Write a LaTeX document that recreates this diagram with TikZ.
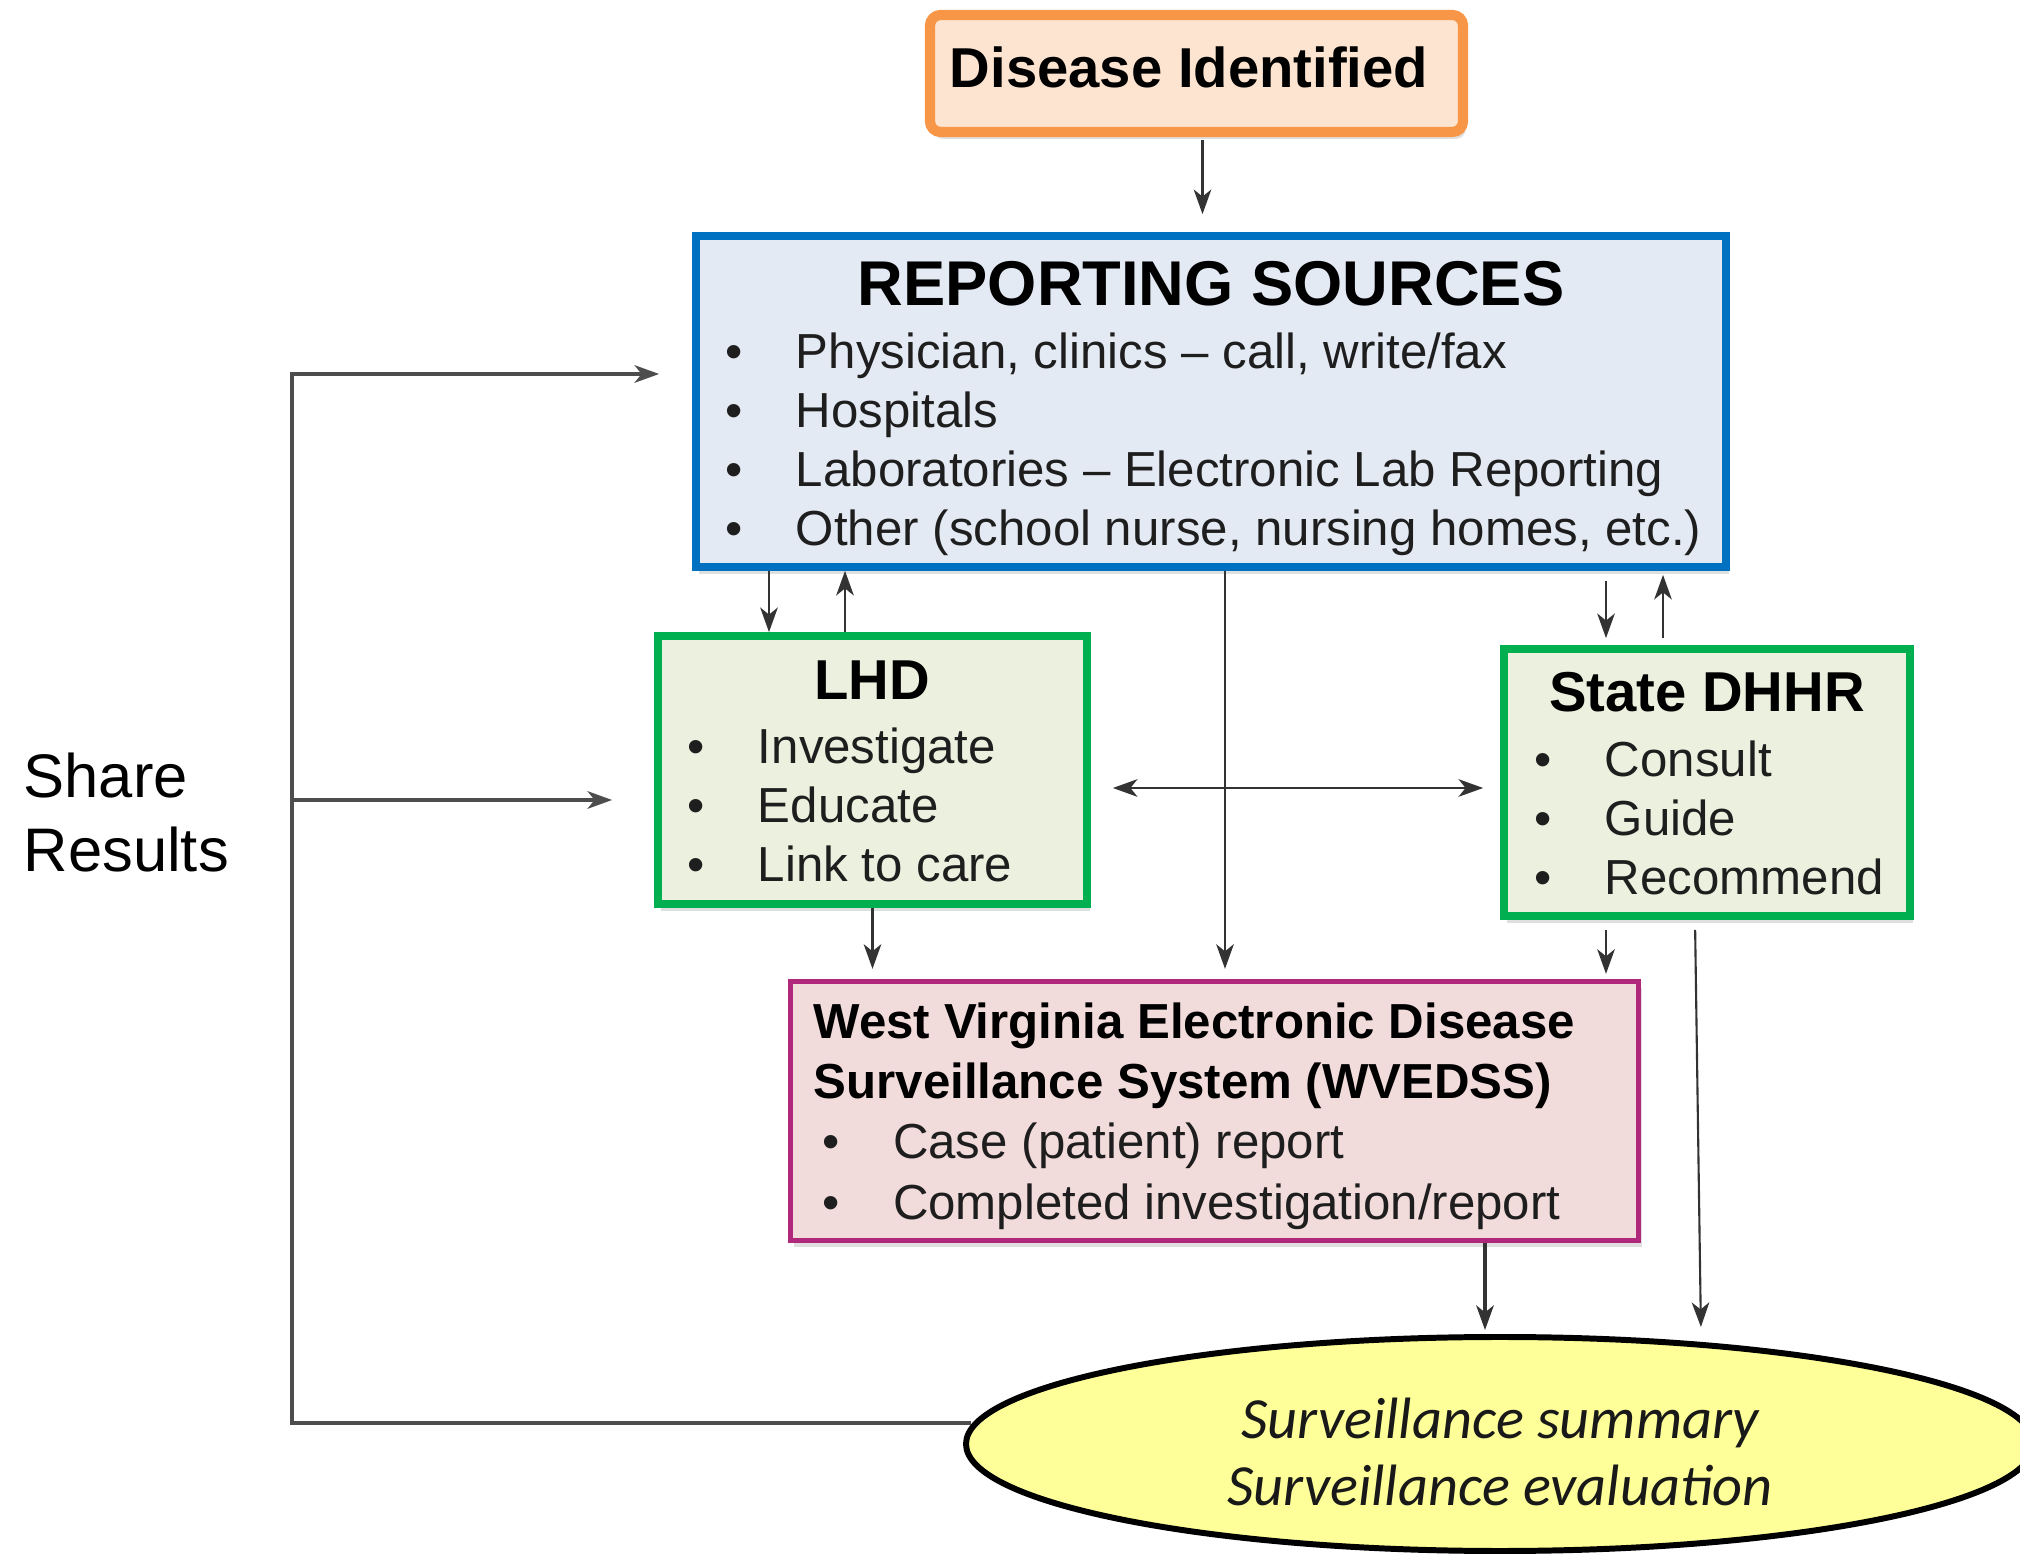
\documentclass[tikz,border=0pt]{standalone}
\usepackage{fontspec}
\setmainfont{Liberation Sans}
\newfontfamily\calfont{Carlito}
\usepackage{tikz}
\usetikzlibrary{arrows.meta,positioning,shapes.geometric,shadows}

\definecolor{dorange}{HTML}{F79646}
\definecolor{dpeach}{HTML}{FCE4D0}
\definecolor{dblue}{HTML}{0070C0}
\definecolor{lblue}{HTML}{E4EAF4}
\definecolor{dgreen}{HTML}{00B050}
\definecolor{lgreen}{HTML}{EBF1DE}
\definecolor{dmagenta}{HTML}{B0287C}
\definecolor{lpink}{HTML}{F2DCDB}
\definecolor{lyellow}{HTML}{FFFF99}
\definecolor{linegray}{HTML}{333333}
\definecolor{sharegray}{HTML}{4D4D4D}
\definecolor{txtgray}{HTML}{1E1E1E}

\newcommand{\bitem}[1]{\strut\makebox[20pt][l]{\textbullet}#1}

\begin{document}
\begin{tikzpicture}[
    >={Stealth[length=7pt,width=5pt,inset=2pt]},
    box/.style={draw, rectangle, inner sep=0pt,
                drop shadow={shadow xshift=0.03cm, shadow yshift=-0.07cm, opacity=0.25}},
    ttl/.style={anchor=base, inner sep=0pt, font=\fontsize{16}{19}\selectfont\bfseries},
    lst/.style={anchor=north west, inner sep=0pt, align=left, text=txtgray,
                font=\fontsize{14}{16.8}\selectfont},
    link/.style={->, line width=0.6pt, draw=linegray},
    share/.style={line width=0.9pt, draw=sharegray}
  ]
  \useasboundingbox (0,0) rectangle (20.2,-15.57);

  % Cajas principales
  \node[box, draw=dorange, fill=dpeach, line width=2.9pt, rounded corners=3pt,
        minimum width=5.33cm, minimum height=1.17cm] (dis) at (11.965,-0.735) {};
  \node[anchor=base, inner sep=0pt, font=\fontsize{16}{19}\selectfont\bfseries]
        (distitle) at (11.89,-0.88) {Disease Identified};

  \node[box, draw=dblue, fill=lblue, line width=2.2pt,
        minimum width=10.30cm, minimum height=3.31cm] (rep) at (12.11,-4.015) {};
  \node[ttl, font=\fontsize{18}{21}\selectfont\bfseries] (reptitle) at (12.11,-3.06) {REPORTING SOURCES};
  \node[lst] (replist) at (7.25,-3.26) {
    \bitem{Physician, clinics \textendash{} call, write/fax}\\
    \bitem{Hospitals}\\
    \bitem{Laboratories \textendash{} Electronic Lab Reporting}\\
    \bitem{Other (school nurse, nursing homes, etc.)}
  };

  \node[box, draw=dgreen, fill=lgreen, line width=2.2pt,
        minimum width=4.29cm, minimum height=2.68cm] (lhd) at (8.725,-7.70) {};
  \node[ttl] (lhdtitle) at (8.72,-7.00) {LHD};
  \node[lst] (lhdlist) at (6.87,-7.21) {
    \bitem{Investigate}\\
    \bitem{Educate}\\
    \bitem{Link to care}
  };

  \node[box, draw=dgreen, fill=lgreen, line width=2.2pt,
        minimum width=4.06cm, minimum height=2.67cm] (dhhr) at (17.07,-7.825) {};
  \node[ttl] (dhhrtitle) at (17.07,-7.12) {State DHHR};
  \node[lst] (dhhrlist) at (15.34,-7.34) {
    \bitem{Consult}\\
    \bitem{Guide}\\
    \bitem{Recommend}
  };

  \node[box, draw=dmagenta, fill=lpink, line width=1.5pt,
        minimum width=8.48cm, minimum height=2.59cm] (wv) at (12.145,-11.11) {};
  \node[lst, font=\fontsize{14}{17.1}\selectfont] (wvlist) at (8.13,-9.96) {
    \strut{\color{black}\bfseries West Virginia Electronic Disease}\\
    {\color{black}\bfseries Surveillance System (WVEDSS)}\\
    \hspace*{2.6pt}\bitem{Case (patient) report}\\
    \hspace*{2.6pt}\bitem{Completed investigation/report}
  };

  \node[ellipse, draw=black, fill=lyellow, line width=1.7pt, inner sep=0pt,
        minimum width=10.68cm, minimum height=2.14cm] (summ) at (15.0,-14.44) {};
  \node[align=center, inner sep=0pt, text=black!90,
        font=\calfont\fontsize{16.6}{19.2}\selectfont\itshape] (summtext) at (15.0,-14.52)
        {Surveillance summary\\Surveillance evaluation};

  \node[anchor=north west, inner sep=0pt, align=left,
        font=\fontsize{17.5}{21.3}\selectfont] (share) at (0.23,-7.44) {\strut Share\\Results};

  % Flechas entre cajas
  \draw[link, shorten <=0.03cm, shorten >=0.18cm] ([xshift=0.06cm]dis.south) -- ([xshift=0.06cm]dis.south |- rep.north);
  \draw[link] ([xshift=-1.035cm]lhd.north |- rep.south) -- ([xshift=-1.035cm]lhd.north);
  \draw[link] ([xshift=-0.275cm]lhd.north) -- ([xshift=-0.275cm]lhd.north |- rep.south);
  \draw[link, shorten >=0.1cm] ([xshift=0.105cm]wv.north |- rep.south) -- ([xshift=0.105cm]wv.north);
  \draw[link, shorten <=0.1cm, shorten >=0.07cm] ([xshift=-1.01cm]dhhr.north |- rep.south) -- ([xshift=-1.01cm]dhhr.north);
  \draw[link, shorten <=0.07cm, shorten >=0.04cm] ([xshift=-0.44cm]dhhr.north) -- ([xshift=-0.44cm]dhhr.north |- rep.south);
  \draw[link, <->, shorten <=0.22cm, shorten >=0.17cm] ([yshift=-0.18cm]lhd.east) -- ([yshift=-0.18cm]lhd.east -| dhhr.west);
  \draw[link, shorten >=0.1cm] (lhd.south) -- (lhd.south |- wv.north);
  \draw[link, shorten <=0.1cm, shorten >=0.05cm] ([xshift=-1.01cm]dhhr.south) -- ([xshift=-1.01cm]dhhr.south |- wv.north);
  \draw[link, shorten <=0.1cm, shorten >=0.07cm] ([xshift=-0.12cm]dhhr.south) -- ([xshift=-0.06cm]dhhr.south |- summ.north);
  \draw[link, line width=0.9pt, shorten >=0.04cm] ([xshift=2.705cm]wv.south) -- ([xshift=2.705cm]wv.south |- summ.north);

  % Lazo de resultados compartidos
  \coordinate (bend) at (2.92,-14.23);
  \draw[share, ->, shorten >=0.33cm] ([xshift=0.08cm,yshift=0.21cm]summ.west) -- (bend) |- ([yshift=0.275cm]rep.west);
  \draw[share, ->, shorten >=0.42cm] (bend) |- ([yshift=-0.30cm]lhd.west);
\end{tikzpicture}
\end{document}
